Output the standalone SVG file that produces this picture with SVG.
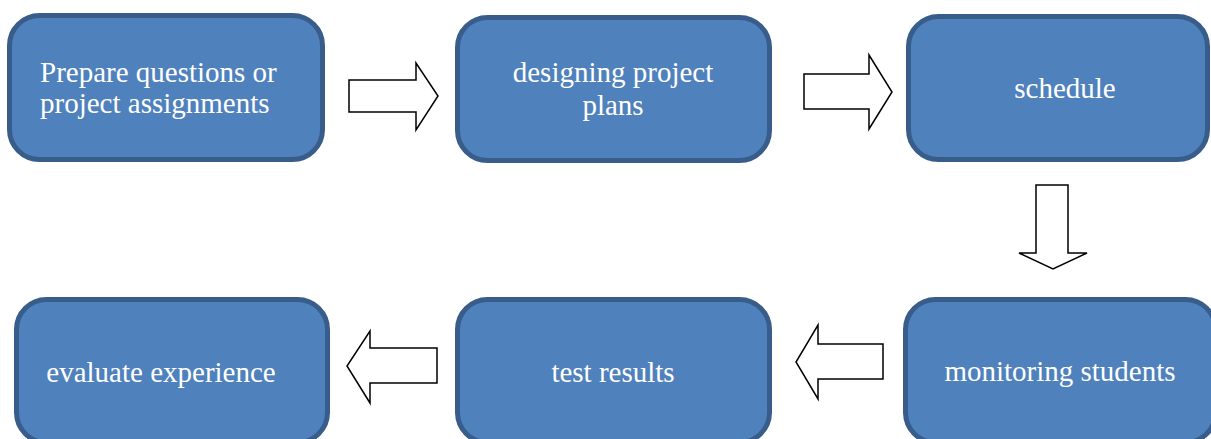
<svg xmlns="http://www.w3.org/2000/svg" width="1211" height="439" viewBox="0 0 1211 439">
<style>
.box{fill:#4f81bd;stroke:#385d8a;stroke-width:5}
.t{font-family:"Liberation Serif","Times New Roman",serif;font-size:29px;fill:#ffffff}
.c{text-anchor:middle}
.arr{fill:#ffffff;stroke:#000000;stroke-width:1.5;stroke-linejoin:miter}
</style>
<rect width="1211" height="439" fill="#ffffff"/>
<g id="connectors">
<polygon class="arr" points="349,80 416,80 416,63 438,96 416,130 416,112 349,112"/>
<polygon class="arr" points="804,74 869,74 869,55 892,92 869,129 869,109 804,109"/>
<polygon class="arr" points="1036,185 1068,185 1068,253 1087,253 1053,269 1019,253 1036,253"/>
<polygon class="arr" points="883,344 818,344 818,325 796,362 818,399 818,379 883,379"/>
<polygon class="arr" points="437,348 370,348 370,331 347,366 370,403 370,383 437,383"/>
</g>
<g id="n1">
<rect class="box" x="9.5" y="15.5" width="313" height="144" rx="30"/>
<text class="t" x="40" y="82">Prepare questions or</text>
<text class="t" x="40" y="113">project assignments</text>
</g>
<g id="n2">
<rect class="box" x="457.5" y="17.5" width="312" height="143" rx="30"/>
<text class="t c" x="613" y="82">designing project</text>
<text class="t c" x="613" y="115">plans</text>
</g>
<g id="n3">
<rect class="box" x="908.5" y="16.5" width="299" height="143" rx="30"/>
<text class="t c" x="1065" y="98">schedule</text>
</g>
<g id="n4">
<rect class="box" x="905.5" y="299.5" width="310" height="143" rx="30"/>
<text class="t c" x="1060" y="381">monitoring students</text>
</g>
<g id="n5">
<rect class="box" x="457.5" y="299.5" width="312" height="143" rx="30"/>
<text class="t c" x="613" y="382">test results</text>
</g>
<g id="n6">
<rect class="box" x="16.5" y="299.5" width="311" height="143" rx="30"/>
<text class="t c" x="161" y="382">evaluate experience</text>
</g>
</svg>
